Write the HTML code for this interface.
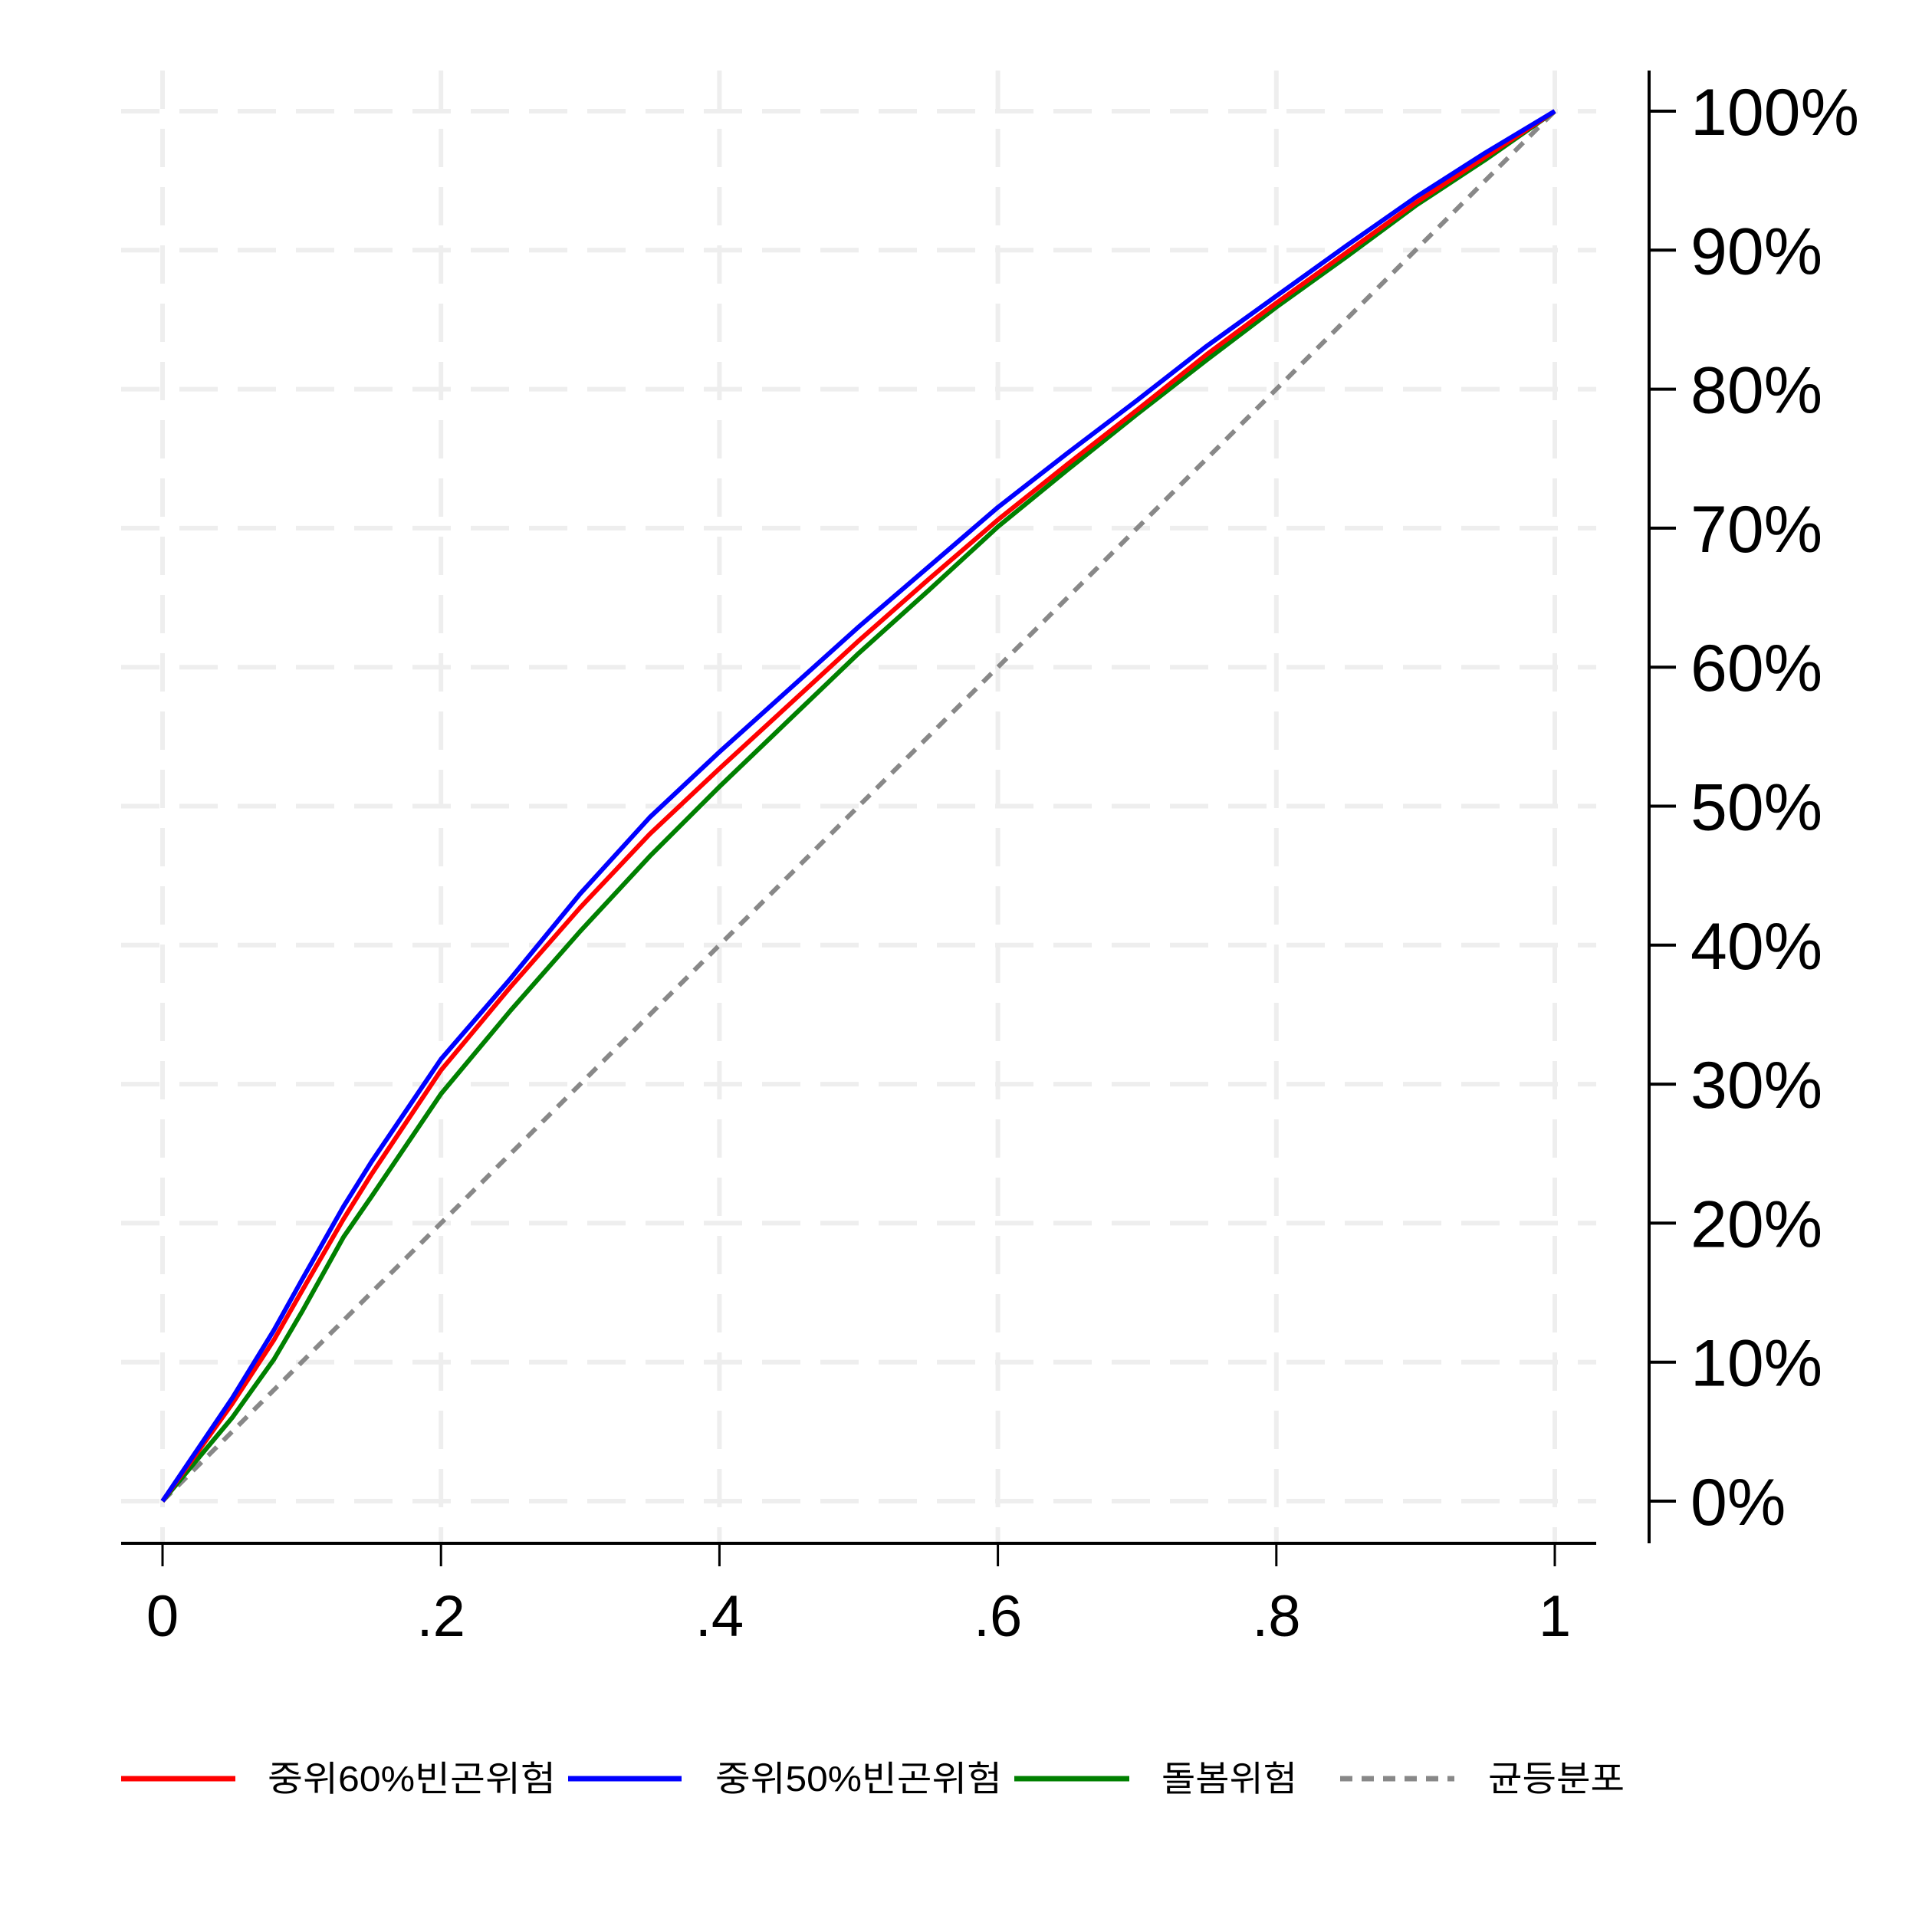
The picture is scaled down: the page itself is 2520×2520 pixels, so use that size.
<!DOCTYPE html>
<html><head><meta charset="utf-8"><style>
html,body{margin:0;padding:0;background:#fff}
svg{display:block}
text{font-family:"Liberation Sans","Noto Sans CJK KR",sans-serif}
</style></head><body>
<svg id="chart" width="2520" height="2520" viewBox="0 0 2520 2520" xmlns="http://www.w3.org/2000/svg">
<rect width="2520" height="2520" fill="#fff"/>
<g id="grid"></g>
<g id="series"></g>
<g id="axes"></g>
<g id="legend">
  <line x1="158" y1="2320" x2="307" y2="2320" stroke="#ff0000" stroke-width="7"/>
  <text x="349" y="2336" font-size="46" textLength="376" lengthAdjust="spacingAndGlyphs">중위60%빈곤위험</text>
  <line x1="741" y1="2320" x2="889" y2="2320" stroke="#0000ff" stroke-width="7"/>
  <text x="933" y="2336" font-size="46" textLength="374" lengthAdjust="spacingAndGlyphs">중위50%빈곤위험</text>
  <line x1="1323" y1="2320" x2="1473" y2="2320" stroke="#008000" stroke-width="7"/>
  <text x="1515" y="2336" font-size="46" textLength="177" lengthAdjust="spacingAndGlyphs">돌봄위험</text>
  <line x1="1748" y1="2320" x2="1897" y2="2320" stroke="#888888" stroke-width="7" stroke-dasharray="16,12"/>
  <text x="1941" y="2336" font-size="46" textLength="178" lengthAdjust="spacingAndGlyphs">균등분포</text>
</g>
</svg>
<script>
const xValues = [0,0.05,0.08,0.1,0.13,0.15,0.2,0.25,0.3,0.35,0.4,0.45,0.5,0.55,0.6,0.65,0.7,0.75,0.8,0.85,0.9,0.95,1];
const poverty50 = [0,7.4,12.3,15.9,21.2,24.4,31.8,37.6,43.7,49.2,53.9,58.4,62.9,67.2,71.5,75.4,79.2,83.1,86.7,90.3,93.8,97.0,100];
const poverty60 = [0,7.0,11.6,15.1,20.3,23.5,31.0,37.0,42.7,48.0,52.7,57.3,61.9,66.3,70.6,74.6,78.5,82.5,86.2,89.8,93.4,96.7,100];
const careRisk  = [0,6.0,10.2,13.6,19.0,21.9,29.3,35.3,41.0,46.4,51.4,56.2,61.0,65.5,70.1,74.2,78.2,82.1,85.9,89.5,93.2,96.5,100];
const equality  = [0,100];
const equalityX = [0,1];
const xTicks = [0,0.2,0.4,0.6,0.8,1];
const xTickLabels = ["0",".2",".4",".6",".8","1"];
const yTicks = [0,10,20,30,40,50,60,70,80,90,100];
const yTickLabels = ["0%","10%","20%","30%","40%","50%","60%","70%","80%","90%","100%"];

const NS="http://www.w3.org/2000/svg";
const X0=212,X1=2028,Y0=1958,Y1=145;
function sx(v){return X0+(X1-X0)*v;}
function sy(v){return Y0-(Y0-Y1)*v/100;}
function mk(tag,attrs,parent){const e=document.createElementNS(NS,tag);for(const k in attrs)e.setAttribute(k,attrs[k]);parent.appendChild(e);return e;}
const grid=document.getElementById('grid'),series=document.getElementById('series'),axes=document.getElementById('axes');

yTicks.forEach(t=>{
  const l=mk('line',{x1:158,x2:2082,y1:sy(t),y2:sy(t),stroke:'#eeeeee','stroke-width':6,'stroke-dasharray':'50,26'},grid);
  
  
});
xTicks.forEach(t=>{
  const l=mk('line',{x1:sx(t),x2:sx(t),y1:92,y2:2013,stroke:'#eeeeee','stroke-width':6,'stroke-dasharray':'50,26'},grid);
  
  
});

function drawLine(xs,ys,color,name,dash){
  const d=xs.map((x,i)=>(i?'L':'M')+sx(x).toFixed(1)+','+sy(ys[i]).toFixed(1)).join(' ');
  const p=mk('path',{d:d,fill:'none',stroke:color,'stroke-width':6,'stroke-linejoin':'round'},series);
  if(dash)p.setAttribute('stroke-dasharray',dash);
  
  
}
drawLine(equalityX,equality,'#888888','equality-line','16,12');
drawLine(xValues,careRisk,'#008000','care-risk-line');
drawLine(xValues,poverty60,'#ff0000','poverty60-line');
drawLine(xValues,poverty50,'#0000ff','poverty50-line');

const xa=mk('line',{x1:158,x2:2082,y1:2013,y2:2013,stroke:'#000','stroke-width':4},axes);


const ya=mk('line',{x1:2151,x2:2151,y1:92,y2:2013,stroke:'#000','stroke-width':4},axes);


xTicks.forEach((t,i)=>{
  const tk=mk('line',{x1:sx(t),x2:sx(t),y1:2013,y2:2043,stroke:'#000','stroke-width':3},axes);
  
  
  const tx=mk('text',{x:sx(t),y:2134,'font-size':76,'text-anchor':'middle',fill:'#000'},axes);
  tx.textContent=xTickLabels[i];
  
  
});
yTicks.forEach((t,i)=>{
  const tk=mk('line',{x1:2151,x2:2186,y1:sy(t),y2:sy(t),stroke:'#000','stroke-width':4},axes);
  
  
  const tx=mk('text',{x:2205,y:sy(t)+31,'font-size':86,fill:'#000'},axes);
  tx.textContent=yTickLabels[i];
  
  
});
</script>
</body></html>
